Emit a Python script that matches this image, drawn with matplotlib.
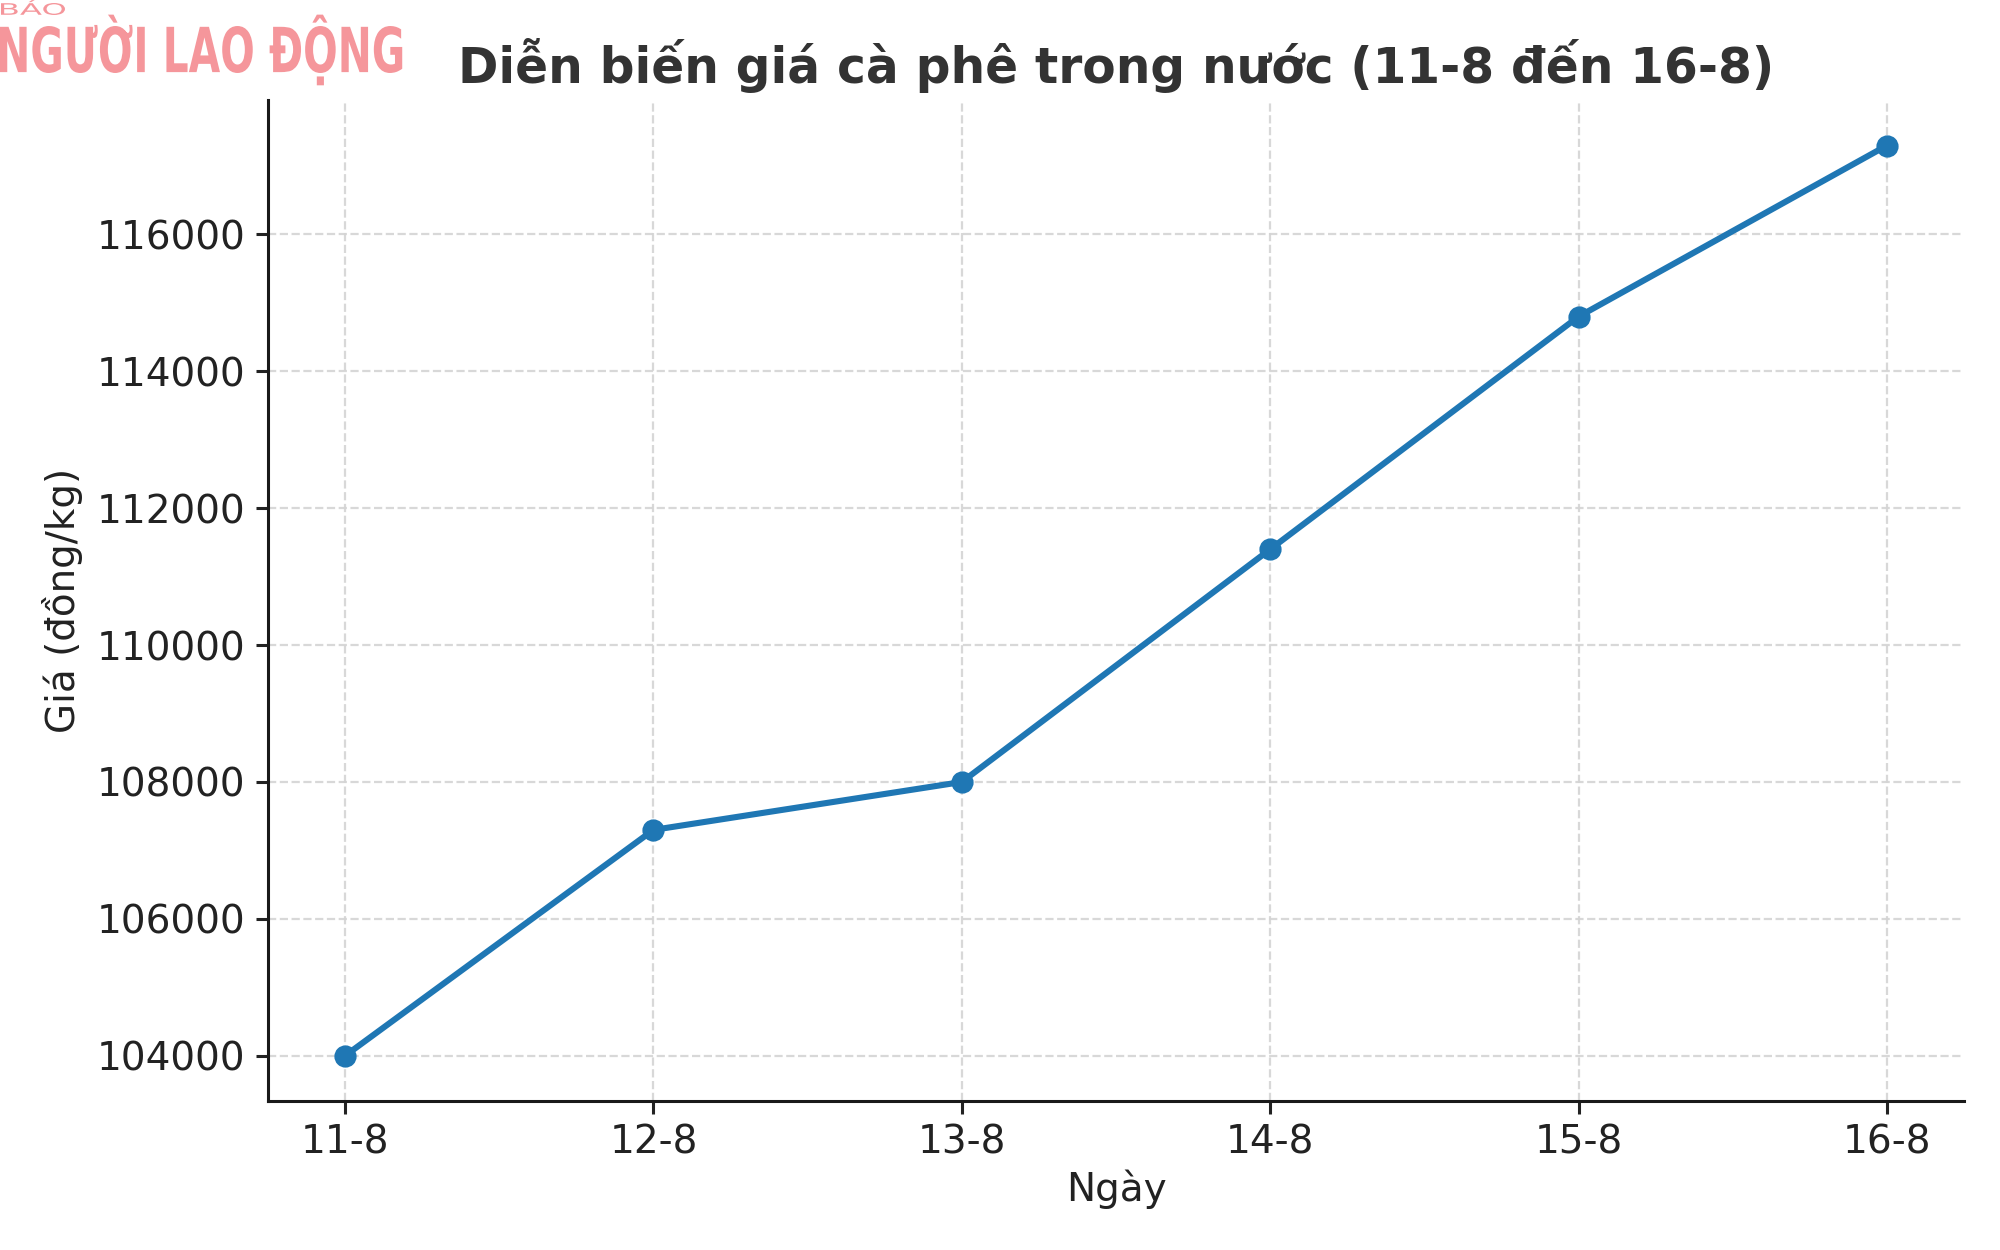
import numpy as np
import matplotlib
matplotlib.use("Agg")
import matplotlib.pyplot as plt
from matplotlib.textpath import TextPath
from matplotlib.patches import PathPatch
from matplotlib.font_manager import FontProperties
from matplotlib.transforms import Affine2D, IdentityTransform

# data
days = ["11-8", "12-8", "13-8", "14-8", "15-8", "16-8"]
prices = [104000, 107300, 108000, 111400, 114800, 117300]
yticks = [104000, 106000, 108000, 110000, 112000, 114000, 116000]

LINE_COLOR = "#1f77b4"
LOGO_COLOR = "#f5969b"

fig = plt.figure(figsize=(10, 6.25), dpi=200)
ax = fig.add_axes([0.134, 0.119, 0.848, 0.801])

x = np.arange(len(days))
ax.plot(x, prices, color=LINE_COLOR, lw=2.2, marker="o", ms=7, zorder=3)

ax.set_xticks(x)
ax.set_xticklabels(days)
ax.set_yticks(yticks)
ax.set_yticklabels([str(v) for v in yticks])
ax.tick_params(labelsize=14, colors="#222222", length=4.5, width=1.1)
ax.grid(True, linestyle="--", color="#d4d4d4", lw=0.8, alpha=0.9)
ax.spines[["top", "right"]].set_visible(False)
for s in ["left", "bottom"]:
    ax.spines[s].set_linewidth(1.1)
    ax.spines[s].set_color("#1a1a1a")

ax.set_xlabel("Ngày", fontsize=14, color="#222222", labelpad=3)
ax.set_ylabel("Giá (đồng/kg)", fontsize=14, color="#222222", labelpad=5)
ax.set_title("Diễn biến giá cà phê trong nước (11-8 đến 16-8)",
             fontsize=17.5, fontweight="bold", color="#333333", pad=6)


# newspaper logo in the top-left corner (pixel coords); the plain-letter
# version of the text sets the box, accents are allowed to stick out
def logo_text(s, plain, x0, y0, w, h, weight):
    prop = FontProperties(family="DejaVu Sans", weight=weight)
    body = np.vstack(TextPath((0, 0), plain, size=100, prop=prop).to_polygons())
    xmin, ymin = body.min(axis=0)
    xmax, ymax = body.max(axis=0)
    tp = TextPath((0, 0), s, size=100, prop=prop)
    tr = (Affine2D().translate(-xmin, -ymin)
          .scale(w / (xmax - xmin), h / (ymax - ymin))
          .translate(x0, y0))
    fig.patches.append(PathPatch(tr.transform_path(tp), color=LOGO_COLOR,
                                 lw=0, transform=IdentityTransform()))


H = 1250
logo_text("NGƯỜI LAO ĐỘNG", "NGUOI LAO DONG", 0, H - 73, 400, 47, "bold")
logo_text("BÁO", "BAO", 1, H - 15, 64, 12, "normal")

fig.savefig("out.png", dpi=200)
